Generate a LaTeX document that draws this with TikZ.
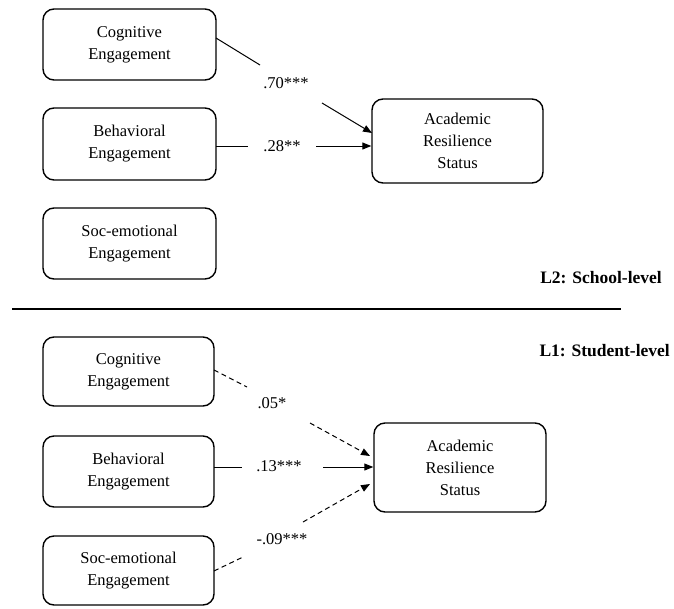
\documentclass[tikz,border=0pt]{standalone}
\usepackage{fontspec}
\setmainfont{Liberation Serif}
\usetikzlibrary{arrows.meta}
\begin{document}
\begin{tikzpicture}[x=1pt,y=-1pt,
  box/.style={draw,line width=1.4pt,rounded corners=11pt,align=center,
    font=\fontsize{16.5}{22}\selectfont,inner sep=0pt},
  lbl/.style={font=\fontsize{16.5}{20}\selectfont,inner sep=1pt},
  lvl/.style={font=\fontsize{17.5}{20}\selectfont\bfseries,anchor=east,inner sep=0pt},
  conn/.style={line width=1pt},
  arr/.style={line width=1pt,-{Triangle[length=9pt,width=7pt]}},
  dsh/.style={dash pattern=on 5pt off 3.5pt}]
\useasboundingbox (0,0) rectangle (674,608);
% top level
\node[box,minimum width=173pt,minimum height=71pt] (cog2) at (129.5,44.5) {Cognitive\\Engagement};
\node[box,minimum width=173pt,minimum height=72pt] (beh2) at (129.5,144) {Behavioral\\Engagement};
\node[box,minimum width=173pt,minimum height=71pt] (soc2) at (129.5,243.5) {Soc-emotional\\Engagement};
\node[box,minimum width=171pt,minimum height=84pt] (ars2) at (457.5,141) {Academic\\Resilience\\Status};
\node[lbl] (l70) at (286,83) {.70***};
\node[lbl] (l28) at (282,146) {.28**};
\coordinate (c2a) at (216,38);
\coordinate (c2b) at (260,65);
\coordinate (c2c) at (322,103);
\coordinate (c2d) at (372,133);
\coordinate (b2a) at (216,146);
\coordinate (b2b) at (248,146);
\coordinate (b2c) at (316,146);
\draw[conn] (c2a) -- (c2b);
\draw[arr] (c2c) -- (c2d);
\draw[conn] (b2a) -- (b2b);
\draw[arr] (b2c) -- (ars2.west |- b2c);
% separator
\coordinate (sepL) at (12,309);
\coordinate (sepR) at (621,309);
\draw[line width=2.2pt] (sepL) -- (sepR);
\node[lvl] (L2) at (662,278) {L2: School-level};
\node[lvl] (L1) at (670,351) {L1: Student-level};
% bottom level
\node[box,minimum width=171pt,minimum height=69pt] (cog1) at (128.5,371.5) {Cognitive\\Engagement};
\node[box,minimum width=171pt,minimum height=71pt] (beh1) at (128.5,471.5) {Behavioral\\Engagement};
\node[box,minimum width=171pt,minimum height=69pt] (soc1) at (128.5,570.5) {Soc-emotional\\Engagement};
\node[box,minimum width=172pt,minimum height=89pt] (ars1) at (460,467.5) {Academic\\Resilience\\Status};
\node[lbl] (l05) at (272,403) {.05*};
\node[lbl] (l13) at (279,466) {.13***};
\node[lbl] (l09) at (282,539) {-.09***};
\coordinate (c1a) at (214,370);
\coordinate (c1b) at (247,387);
\coordinate (c1c) at (310,423);
\coordinate (c1d) at (370,456);
\coordinate (b1a) at (214,467);
\coordinate (b1b) at (242,467);
\coordinate (b1c) at (323,467);
\coordinate (s1a) at (214,571);
\coordinate (s1b) at (243,557);
\coordinate (s1c) at (303,522);
\coordinate (s1d) at (370,484);
\draw[conn,dsh] (c1a) -- (c1b);
\draw[arr,dsh] (c1c) -- (c1d);
\draw[conn] (b1a) -- (b1b);
\draw[arr] (b1c) -- (ars1.west |- b1c);
\draw[conn,dsh] (s1a) -- (s1b);
\draw[arr,dsh] (s1c) -- (s1d);
\end{tikzpicture}
\end{document}
